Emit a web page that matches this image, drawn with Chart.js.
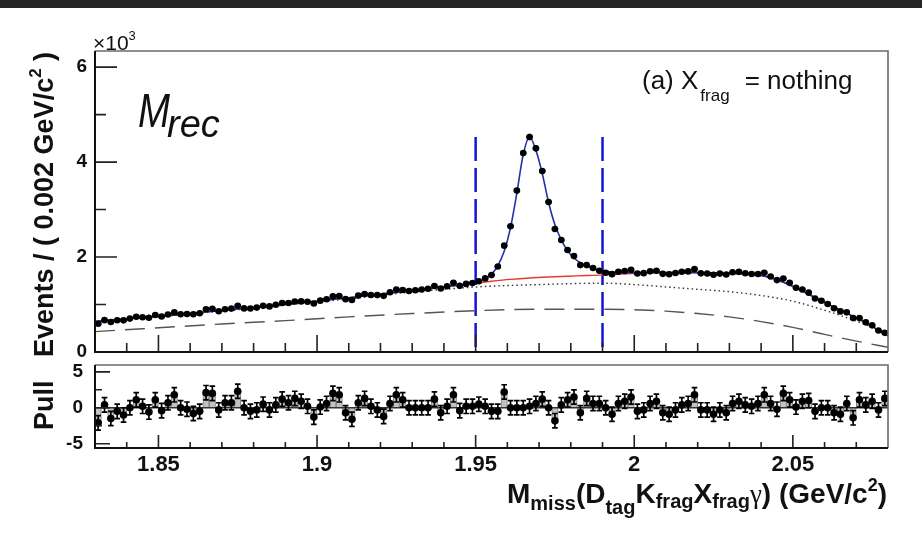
<!DOCTYPE html>
<html>
<head>
<meta charset="utf-8">
<script src="https://cdn.jsdelivr.net/npm/chart.js@4.4.1/dist/chart.umd.min.js"></script>
<style>
  html, body { margin: 0; padding: 0; background: #ffffff; }
  #wrap { position: relative; width: 922px; height: 541px; overflow: hidden; background: #ffffff; }
  #topbar { position: absolute; left: 0; top: 0; width: 922px; height: 8px; background: #262626; }
  canvas { position: absolute; left: 0; top: 0; }
</style>
</head>
<body>
<div id="wrap">
  <div id="topbar"></div>
  <canvas id="main" width="922" height="541"></canvas>
  <canvas id="pull" width="922" height="541"></canvas>
</div>
<script>
// ---- binning ----
const xMin = 1.83, xMax = 2.08, binWidth = 0.002;
const binCenters = Array.from({ length: 125 }, (_, i) => +(1.831 + i * binWidth).toFixed(3));

// ---- events per bin (x10^3) ----
const events = [
  0.595, 0.671, 0.632, 0.669, 0.667, 0.704, 0.744, 0.731, 0.722, 0.778,
  0.749, 0.791, 0.834, 0.795, 0.801, 0.796, 0.817, 0.902, 0.911, 0.859,
  0.901, 0.914, 0.974, 0.918, 0.916, 0.935, 0.972, 0.961, 0.995, 1.033,
  1.032, 1.065, 1.066, 1.057, 1.023, 1.082, 1.112, 1.171, 1.179, 1.113,
  1.096, 1.188, 1.223, 1.201, 1.199, 1.183, 1.259, 1.315, 1.307, 1.285,
  1.300, 1.316, 1.331, 1.390, 1.338, 1.386, 1.460, 1.393, 1.434, 1.451,
  1.490, 1.550, 1.620, 1.800, 2.240, 2.650, 3.400, 4.190, 4.530, 4.290,
  3.810, 3.160, 2.590, 2.360, 2.150, 2.020, 1.830, 1.830, 1.770, 1.710,
  1.670, 1.640, 1.690, 1.705, 1.732, 1.652, 1.661, 1.699, 1.712, 1.646,
  1.638, 1.663, 1.690, 1.698, 1.745, 1.657, 1.655, 1.628, 1.651, 1.631,
  1.681, 1.688, 1.660, 1.642, 1.643, 1.670, 1.589, 1.514, 1.546, 1.457,
  1.354, 1.317, 1.250, 1.128, 1.078, 1.010, 0.923, 0.855, 0.835, 0.714,
  0.714, 0.625, 0.561, 0.454, 0.403
];

// ---- pull per bin ----
const pulls = [
  -2.1, 0.4, -1.5, -0.5, -1.0, 0, 1.1, 0.2, -0.6, 1.1,
  -0.4, 0.7, 1.8, 0, -0.2, -0.8, -0.5, 2.1, 2.0, -0.3,
  0.7, 0.7, 2.3, 0, -0.5, -0.3, 0.5, -0.3, 0.4, 1.2,
  0.7, 1.3, 0.9, 0.2, -1.3, 0.1, 0.6, 2.0, 1.8, -0.7,
  -1.6, 0.7, 1.3, 0.2, -0.3, -1.2, 0.6, 1.8, 1.1, 0,
  0, 0, 0, 1.2, -0.7, 0.2, 1.8, -0.4, 0.2, 0.2,
  0.5, 0.2, -0.5, -0.5, 2.2, 0, 0, 0, 0.2, 0.6,
  1.2, 0, -1.8, 0.4, 1.1, 1.5, -0.7, 1.3, 0.6, 0.6,
  0, -0.9, 0.6, 0.9, 1.5, -0.5, -0.3, 0.6, 0.9, -0.7,
  -0.9, -0.3, 0.4, 0.6, 1.8, -0.3, -0.3, -0.9, -0.3, -0.7,
  0.6, 0.9, 0.4, 0.2, 0.6, 1.8, 0.6, -0.2, 2.0, 1.1,
  0.1, 0.9, 1.0, -0.5, 0, 0, -0.7, -0.9, 0.6, -1.4,
  1.1, 0.4, 0.9, -0.3, 1.3
];

// ---- fit curves (x10^3) ----
const totalX = [1.83, 1.85, 1.87, 1.89, 1.91, 1.93, 1.94, 1.945, 1.949, 1.951, 1.953, 1.955, 1.957, 1.959,
  1.961, 1.963, 1.965, 1.967, 1.969, 1.971, 1.973, 1.975, 1.977, 1.979, 1.981, 1.983, 1.985, 1.987, 1.989,
  1.991, 1.993, 1.995, 2.001, 2.007, 2.013, 2.019, 2.025, 2.031, 2.035, 2.039, 2.041, 2.043, 2.045, 2.047,
  2.051, 2.055, 2.059, 2.063, 2.067, 2.071, 2.075, 2.079, 2.08];
const totalY = [0.645, 0.754, 0.874, 1.003, 1.143, 1.292, 1.371, 1.411, 1.444, 1.48, 1.54, 1.64, 1.82, 2.12,
  2.62, 3.35, 4.16, 4.53, 4.25, 3.76, 3.15, 2.68, 2.36, 2.13, 1.98, 1.88, 1.81, 1.76, 1.72,
  1.70, 1.685, 1.672, 1.672, 1.675, 1.675, 1.671, 1.665, 1.656, 1.644, 1.619, 1.598, 1.565, 1.522, 1.470,
  1.350, 1.215, 1.078, 0.945, 0.818, 0.685, 0.540, 0.378, 0.34];

const bkgX = [1.83, 1.85, 1.87, 1.89, 1.91, 1.93, 1.94, 1.945, 1.949, 1.955, 1.961, 1.967, 1.973, 1.979,
  1.985, 1.991, 1.997, 2.003, 2.009, 2.015, 2.019, 2.025, 2.031, 2.035, 2.039, 2.041, 2.043, 2.045, 2.047,
  2.051, 2.055, 2.059, 2.063, 2.067, 2.071, 2.075, 2.079, 2.08];
const bkgY = [0.645, 0.754, 0.874, 1.003, 1.143, 1.292, 1.371, 1.411, 1.444, 1.49, 1.53, 1.56, 1.58, 1.595,
  1.61, 1.625, 1.645, 1.662, 1.672, 1.675, 1.671, 1.665, 1.656, 1.644, 1.619, 1.598, 1.565, 1.522, 1.470,
  1.350, 1.215, 1.078, 0.945, 0.818, 0.685, 0.540, 0.378, 0.34];

const dottedX = [1.83, 1.85, 1.87, 1.89, 1.91, 1.93, 1.94, 1.95, 1.96, 1.97, 1.98, 1.99, 2.00, 2.01, 2.02,
  2.03, 2.04, 2.05, 2.06, 2.065, 2.07, 2.075, 2.08];
const dottedY = [0.63, 0.74, 0.86, 0.99, 1.12, 1.265, 1.32, 1.37, 1.40, 1.42, 1.44, 1.45, 1.42, 1.37, 1.32,
  1.27, 1.19, 1.07, 0.88, 0.77, 0.65, 0.52, 0.38];

const dashedX = [1.83, 1.85, 1.87, 1.89, 1.91, 1.93, 1.95, 1.97, 1.99, 2.00, 2.01, 2.02, 2.03, 2.04, 2.05,
  2.06, 2.07, 2.08];
const dashedY = [0.43, 0.51, 0.59, 0.66, 0.74, 0.81, 0.87, 0.90, 0.90, 0.89, 0.86, 0.81, 0.74, 0.64, 0.52,
  0.37, 0.23, 0.10];

// ---- signal window ----
const cutLow = 1.95, cutHigh = 1.99, cutTop = 4.53;

// ---- axes ----
const yMaxTop = 6.34;
const yTicksTop = [0, 2, 4, 6];
const yMinorTop = [1, 3, 5];
const pullMin = -5.6, pullMax = 5.95;
const yTicksPull = [-5, 0, 5];
const yMinorPull = [-2.5, 2.5];
const xTicks = [1.85, 1.9, 1.95, 2, 2.05];
const xTickLabels = ['1.85', '1.9', '1.95', '2', '2.05'];
const xMinor = [1.84, 1.86, 1.87, 1.88, 1.89, 1.91, 1.92, 1.93, 1.94, 1.96, 1.97, 1.98, 1.99,
  2.01, 2.02, 2.03, 2.04, 2.06, 2.07];

const FAM = '"Liberation Sans", Arial, Helvetica, sans-serif';
const fnt = (size, weight = 'normal', style = 'normal', fam = FAM) => `${style} ${weight} ${size}px ${fam}`;
const pts = (xs, ys) => xs.map((x, i) => ({ x, y: ys[i] }));

// text made of runs with their own font and vertical offset
function drawRuns(ctx, runs, x, y, align) {
  let w = 0;
  runs.forEach(r => { ctx.font = r.font; r.w = ctx.measureText(r.t).width; w += r.w + (r.dx || 0); });
  let cx = align === 'right' ? x - w : x;
  ctx.textAlign = 'left';
  ctx.textBaseline = 'alphabetic';
  runs.forEach(r => {
    ctx.font = r.font;
    cx += (r.dx || 0);
    ctx.fillText(r.t, cx, y + (r.dy || 0));
    cx += r.w;
  });
}

// frame and inward tick marks
function drawFrame(chart, cfg) {
  const { ctx, chartArea: a, scales } = chart;
  ctx.save();
  ctx.lineCap = 'butt';
  ctx.strokeStyle = '#222';
  ctx.lineWidth = 1.6;
  ctx.beginPath();
  xTicks.forEach(v => { const px = scales.x.getPixelForValue(v); ctx.moveTo(px, a.bottom); ctx.lineTo(px, a.bottom - cfg.xMaj); });
  xMinor.forEach(v => { const px = scales.x.getPixelForValue(v); ctx.moveTo(px, a.bottom); ctx.lineTo(px, a.bottom - cfg.xMin); });
  cfg.yMajor.forEach(v => { const py = scales.y.getPixelForValue(v); ctx.moveTo(a.left, py); ctx.lineTo(a.left + cfg.yMaj, py); });
  cfg.yMinor.forEach(v => { const py = scales.y.getPixelForValue(v); ctx.moveTo(a.left, py); ctx.lineTo(a.left + cfg.yMin, py); });
  ctx.stroke();
  ctx.strokeStyle = '#6a6a6a';
  ctx.lineWidth = 1.6;
  ctx.beginPath();
  ctx.moveTo(a.left, a.top); ctx.lineTo(a.right, a.top); ctx.lineTo(a.right, a.bottom);
  ctx.stroke();
  ctx.strokeStyle = '#111';
  ctx.lineWidth = 2;
  ctx.beginPath();
  ctx.moveTo(a.left, a.top); ctx.lineTo(a.left, a.bottom); ctx.lineTo(a.right, a.bottom);
  ctx.stroke();
  ctx.restore();
}

// Poisson error bars and bin-width bars behind the data markers
const dataErrors = {
  id: 'dataErrors',
  beforeDatasetDraw(chart, args) {
    const ds = chart.data.datasets[args.index];
    if (ds.label !== 'data') return;
    const { ctx, scales: { x, y } } = chart;
    ctx.save();
    ctx.strokeStyle = '#000';
    ctx.lineWidth = 2.4;
    ctx.beginPath();
    events.forEach((v, i) => {
      const yc = y.getPixelForValue(v);
      ctx.moveTo(x.getPixelForValue(binCenters[i] - binWidth / 2), yc);
      ctx.lineTo(x.getPixelForValue(binCenters[i] + binWidth / 2), yc);
    });
    ctx.stroke();
    ctx.lineWidth = 1.6;
    ctx.beginPath();
    events.forEach((v, i) => {
      const err = Math.sqrt(v * 1000) / 1000;
      const xc = x.getPixelForValue(binCenters[i]);
      ctx.moveTo(xc, y.getPixelForValue(v - err));
      ctx.lineTo(xc, y.getPixelForValue(v + err));
    });
    ctx.stroke();
    ctx.restore();
  }
};

const mainDecor = {
  id: 'mainDecor',
  afterDraw(chart) {
    drawFrame(chart, { xMaj: 17, xMin: 9, yMaj: 22, yMin: 11, yMajor: yTicksTop, yMinor: yMinorTop });
    const ctx = chart.ctx;
    ctx.save();
    ctx.fillStyle = '#111';
    // axis multiplier
    drawRuns(ctx, [
      { t: '\u00d710', font: fnt(21) },
      { t: '3', font: fnt(13), dy: -10 }
    ], 93, 50, 'left');
    // y axis title
    ctx.save();
    ctx.translate(53, 357);
    ctx.rotate(-Math.PI / 2);
    drawRuns(ctx, [
      { t: 'Events / ( 0.002 GeV/c', font: fnt(27, 'bold') },
      { t: '2', font: fnt(17, 'bold'), dy: -12 },
      { t: ' )', font: fnt(27, 'bold') }
    ], 0, 0, 'left');
    ctx.restore();
    // panel label
    drawRuns(ctx, [
      { t: '(a) X', font: fnt(26) },
      { t: 'frag', font: fnt(17), dy: 12, dx: 2 },
      { t: '= nothing', font: fnt(26), dx: 15 }
    ], 642, 89, 'left');
    // M_rec
    ctx.save();
    ctx.translate(138, 127);
    ctx.scale(0.8, 1);
    ctx.font = fnt(48, 'normal', 'italic');
    ctx.textBaseline = 'alphabetic';
    ctx.fillText('M', 0, 0);
    const mw = ctx.measureText('M').width * 0.8;
    ctx.restore();
    ctx.font = fnt(38, 'normal', 'italic');
    ctx.fillText('rec', 138 + mw - 3, 137);
    ctx.restore();
  }
};

const pullErrors = {
  id: 'pullErrors',
  beforeDatasetDraw(chart, args) {
    const ds = chart.data.datasets[args.index];
    const { ctx, scales: { x, y }, chartArea: a } = chart;
    if (ds.label !== 'pull') return;
    ctx.save();
    // zero line
    ctx.strokeStyle = '#333';
    ctx.lineWidth = 1.5;
    ctx.beginPath();
    ctx.moveTo(a.left, y.getPixelForValue(0));
    ctx.lineTo(a.right, y.getPixelForValue(0));
    ctx.stroke();
    ctx.strokeStyle = '#000';
    ctx.lineWidth = 1.7;
    ctx.beginPath();
    pulls.forEach((p, i) => {
      const xc = x.getPixelForValue(binCenters[i]);
      const y0 = y.getPixelForValue(p - 1), y1 = y.getPixelForValue(p + 1);
      ctx.moveTo(xc, y0); ctx.lineTo(xc, y1);
      ctx.moveTo(xc - 2.8, y0); ctx.lineTo(xc + 2.8, y0);
      ctx.moveTo(xc - 2.8, y1); ctx.lineTo(xc + 2.8, y1);
    });
    ctx.stroke();
    ctx.restore();
  }
};

const pullDecor = {
  id: 'pullDecor',
  afterDraw(chart) {
    drawFrame(chart, { xMaj: 13, xMin: 6, yMaj: 15, yMin: 7, yMajor: yTicksPull, yMinor: yMinorPull });
    const ctx = chart.ctx;
    ctx.save();
    ctx.fillStyle = '#111';
    ctx.save();
    ctx.translate(53, 430);
    ctx.rotate(-Math.PI / 2);
    drawRuns(ctx, [{ t: 'Pull', font: fnt(27, 'bold') }], 0, 0, 'left');
    ctx.restore();
    const M = fnt(28, 'bold'), S = fnt(20, 'bold');
    drawRuns(ctx, [
      { t: 'M', font: M },
      { t: 'miss', font: S, dy: 7 },
      { t: '(D', font: M },
      { t: 'tag', font: S, dy: 11 },
      { t: 'K', font: M },
      { t: 'frag', font: S, dy: 5 },
      { t: 'X', font: M },
      { t: 'frag', font: S, dy: 5 },
      { t: '\u03b3', font: fnt(27, 'normal', 'normal', '"Liberation Serif", "DejaVu Serif", serif') },
      { t: ') (GeV/c', font: M },
      { t: '2', font: fnt(18, 'bold'), dy: -12 },
      { t: ')', font: M }
    ], 887, 503, 'right');
    ctx.restore();
  }
};

Chart.defaults.font.family = FAM;
Chart.defaults.animation = false;

const tickFont = size => ({ family: FAM, size, weight: 'bold' });

new Chart(document.getElementById('main'), {
  type: 'scatter',
  data: {
    datasets: [
      { label: 'data', data: pts(binCenters, events), pointRadius: 3.3, pointBackgroundColor: '#000',
        pointBorderColor: '#000', pointBorderWidth: 0, order: 0 },
      { label: 'total fit', data: pts(totalX, totalY), showLine: true, pointRadius: 0, borderColor: '#2233aa',
        borderWidth: 1.6, cubicInterpolationMode: 'monotone', order: 1 },
      { label: 'background', data: pts(bkgX, bkgY), showLine: true, pointRadius: 0, borderColor: '#e33a30',
        borderWidth: 1.4, cubicInterpolationMode: 'monotone', order: 2 },
      { label: 'peaking background', data: pts(dottedX, dottedY), showLine: true, pointRadius: 0,
        borderColor: '#333', borderWidth: 1.4, borderDash: [1.5, 3], cubicInterpolationMode: 'monotone', order: 3 },
      { label: 'combinatorial', data: pts(dashedX, dashedY), showLine: true, pointRadius: 0,
        borderColor: '#555', borderWidth: 1.4, borderDash: [20, 10], cubicInterpolationMode: 'monotone', order: 4 },
      { label: 'window low', data: [{ x: cutLow, y: cutTop }, { x: cutLow, y: 0 }], showLine: true, pointRadius: 0,
        borderColor: '#1414d6', borderWidth: 2.5, borderDash: [24, 7], order: 5 },
      { label: 'window high', data: [{ x: cutHigh, y: cutTop }, { x: cutHigh, y: 0 }], showLine: true, pointRadius: 0,
        borderColor: '#1414d6', borderWidth: 2.5, borderDash: [24, 7], order: 5 }
    ]
  },
  options: {
    responsive: false,
    animation: false,
    events: [],
    layout: { padding: { left: 35, right: 34, top: 51, bottom: 189 } },
    plugins: { legend: { display: false }, tooltip: { enabled: false } },
    scales: {
      x: { type: 'linear', min: xMin, max: xMax, display: false },
      y: {
        type: 'linear', min: 0, max: yMaxTop,
        afterBuildTicks: s => { s.ticks = yTicksTop.map(v => ({ value: v })); },
        afterFit: s => { s.width = 60; },
        ticks: { font: tickFont(19), color: '#111', padding: 8, callback: v => String(v) },
        grid: { display: false, drawTicks: false },
        border: { display: false }
      }
    }
  },
  plugins: [dataErrors, mainDecor]
});

new Chart(document.getElementById('pull'), {
  type: 'scatter',
  data: {
    datasets: [
      { type: 'bar', label: 'pull bars', data: pts(binCenters, pulls), backgroundColor: '#c2c2c2',
        borderColor: '#808080', borderWidth: 1, barPercentage: 1, categoryPercentage: 1, grouped: false, order: 2 },
      { label: 'pull', data: pts(binCenters, pulls), pointRadius: 3.8, pointBackgroundColor: '#000',
        pointBorderColor: '#000', pointBorderWidth: 0, order: 0 }
    ]
  },
  options: {
    responsive: false,
    animation: false,
    events: [],
    layout: { padding: { left: 35, right: 34, top: 365, bottom: 53 } },
    plugins: { legend: { display: false }, tooltip: { enabled: false } },
    scales: {
      x: {
        type: 'linear', min: xMin, max: xMax, offset: false,
        afterBuildTicks: s => { s.ticks = xTicks.map(v => ({ value: v })); },
        afterFit: s => { s.height = 40; },
        ticks: { font: tickFont(22), color: '#111', padding: 4, maxRotation: 0,
          callback: v => xTickLabels[xTicks.indexOf(v)] ?? String(v) },
        grid: { display: false, drawTicks: false },
        border: { display: false }
      },
      y: {
        type: 'linear', min: pullMin, max: pullMax,
        afterBuildTicks: s => { s.ticks = yTicksPull.map(v => ({ value: v })); },
        afterFit: s => { s.width = 60; },
        ticks: { font: tickFont(19), color: '#111', padding: 12, callback: v => String(v) },
        grid: { display: false, drawTicks: false },
        border: { display: false }
      }
    }
  },
  plugins: [pullErrors, pullDecor]
});
</script>
</body>
</html>
